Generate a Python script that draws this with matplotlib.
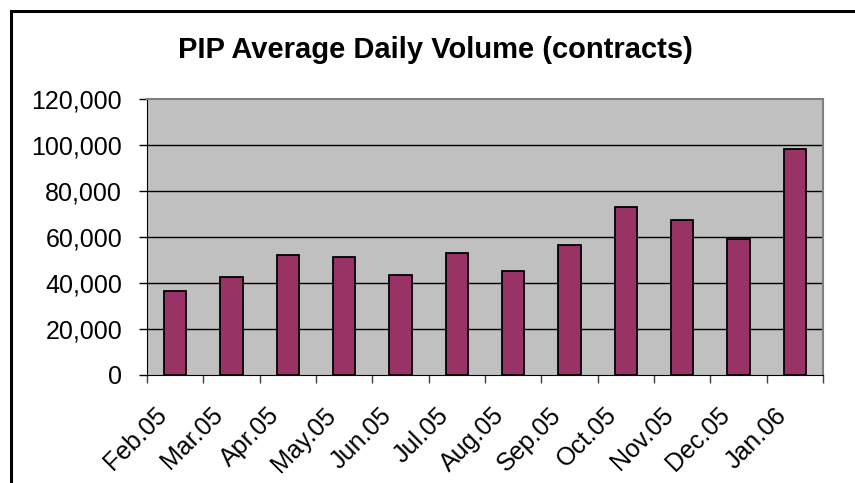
import matplotlib
matplotlib.use("Agg")
from matplotlib import pyplot as plt
from matplotlib.ticker import FuncFormatter
from matplotlib.patches import Rectangle
from matplotlib.transforms import ScaledTranslation

# Data
months = ['Feb.05', 'Mar.05', 'Apr.05', 'May.05', 'Jun.05', 'Jul.05',
          'Aug.05', 'Sep.05', 'Oct.05', 'Nov.05', 'Dec.05', 'Jan.06']
volume = [36600, 42700, 52300, 51400, 43600, 53200,
          45300, 56600, 73200, 67200, 59200, 98300]

plt.rcParams['font.family'] = ['Liberation Sans', 'DejaVu Sans']

fig = plt.figure(figsize=(8.55, 4.83), dpi=100)
ax = fig.add_axes([147 / 855, 1 - 375 / 483, (823 - 147) / 855, (375 - 99) / 483])

# outer chart border (top and left visible)
fig.patches.append(Rectangle((11 / 855, -0.1), 1.2, 0.1 + 1 - 11 / 483,
                             transform=fig.transFigure, fill=False,
                             edgecolor='black', linewidth=2.2))

x = list(range(len(months)))
ax.set_facecolor('#C0C0C0')
ax.bar(x, volume, width=0.4, color='#993366', edgecolor='black',
       linewidth=1.3, zorder=3)

ax.set_xlim(-0.5, len(months) - 0.5)
ax.set_ylim(0, 120000)
ax.set_yticks(range(0, 120001, 20000))
ax.yaxis.set_major_formatter(FuncFormatter(lambda v, p: f'{int(v):,}'))
for v in range(20000, 120000, 20000):
    ax.axhline(v, color='black', linewidth=1.0, zorder=1)

# category boundaries as ticks, labels drawn at centres
ax.set_xticks([i - 0.5 for i in range(len(months) + 1)])
ax.set_xticklabels([])
ax.tick_params(axis='x', length=6, width=1, color='#404040', direction='out')
ax.tick_params(axis='y', length=6, width=1, color='black', labelsize=18, pad=12)

shift = ScaledTranslation(-21 / 100, -28 / 100, fig.dpi_scale_trans)
for xi, m in zip(x, months):
    ax.text(xi, 0, m, transform=ax.get_xaxis_transform() + shift,
            rotation=45, ha='right', va='top', rotation_mode='anchor',
            fontsize=18)

for side in ['top', 'right']:
    ax.spines[side].set_color('#808080')
    ax.spines[side].set_linewidth(1.5)
ax.spines['left'].set_color('black')
ax.spines['bottom'].set_color('black')

fig.text(435 / 855, 1 - 50 / 483, 'PIP Average Daily Volume (contracts)',
         fontsize=21, fontweight='bold', ha='center', va='center')

fig.savefig('out.png', dpi=100)
